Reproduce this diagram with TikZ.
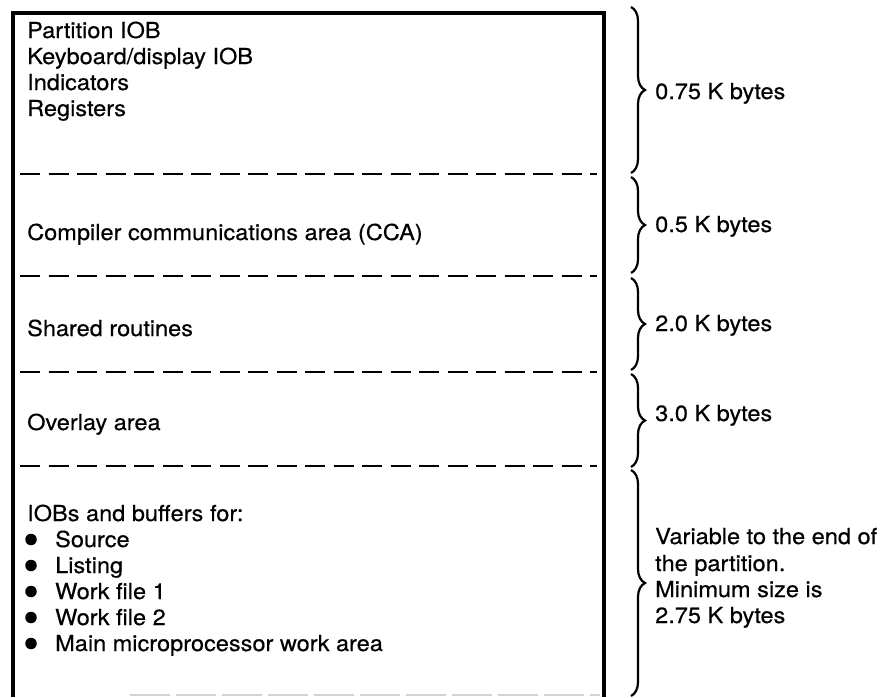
\documentclass[tikz,border=0pt]{standalone}
\usepackage{fontspec}
\setmainfont{TeX Gyre Heros}[FakeStretch=1.07,FakeBold=0.4]
\usetikzlibrary{decorations.pathreplacing}
\begin{document}
\begin{tikzpicture}[x=1pt,y=-1pt,
  txt/.style={anchor=base west,inner sep=0pt,font=\fontsize{22}{25}\selectfont},
  sep/.style={line width=2.4pt,dash pattern=on 20pt off 8.5pt},
  frame/.style={line width=3.2pt},
  brc/.style={line width=2.2pt,decorate,decoration={brace,amplitude=14pt}},
  bul/.style={circle,fill=black,inner sep=0pt,minimum size=11.5pt}]
\useasboundingbox (0,0) rectangle (893,697);
% frame
\coordinate (tl) at (13,13);
\coordinate (tr) at (604,13);
\coordinate (bl) at (13,697);
\coordinate (br) at (604,697);
\draw[frame] (bl) -- (tl) -- (tr) -- (br);
\coordinate (bbl) at (130,695);
\coordinate (bbr) at (600,695);
\draw[gray!35,line width=1.2pt,dash pattern=on 40pt off 6pt] (bbl) -- (bbr);
% separators
\foreach \y/\n in {174/a,276/b,372/c,466/d}{
  \coordinate (s\n l) at (20,\y);
  \coordinate (s\n r) at (597,\y);
  \draw[sep] (s\n l) -- (s\n r);
}
% left texts
\node[txt] (t1) at (27,38) {Partition IOB};
\node[txt] (t2) at (27,64) {Keyboard/display IOB};
\node[txt] (t3) at (27,90) {Indicators};
\node[txt] (t4) at (27,116) {Registers};
\node[txt] (t5) at (27,240) {Compiler communications area (CCA)};
\node[txt] (t6) at (27,336) {Shared routines};
\node[txt] (t7) at (27,430) {Overlay area};
\node[txt] (t8) at (27,521) {IOBs and buffers for:};
\foreach \y/\s/\n in {547/Source/1,573/Listing/2,599/Work file 1/3,625/Work file 2/4,651/Main microprocessor work area/5}{
  \node[bul] (b\n) at (31,\y-7.5) {};
  \node[txt] (i\n) at (55,\y) {\s};
}
% braces
\foreach \a/\b/\n in {7/173/1,177/273/2,278/370/3,374/467/4,470/696/5}{
  \coordinate (u\n) at (631,\a);
  \coordinate (v\n) at (631,\b);
  \draw[brc] (u\n) -- (v\n);
}
% right labels
\node[txt] (r1) at (655,99) {0.75 K bytes};
\node[txt] (r2) at (655,232) {0.5 K bytes};
\node[txt] (r3) at (655,331) {2.0 K bytes};
\node[txt] (r4) at (655,421) {3.0 K bytes};
\node[txt] (r5) at (655,544) {Variable to the end of};
\node[txt] (r6) at (655,571) {the partition.};
\node[txt] (r7) at (655,597) {Minimum size is};
\node[txt] (r8) at (655,623) {2.75 K bytes};
\end{tikzpicture}
\end{document}
